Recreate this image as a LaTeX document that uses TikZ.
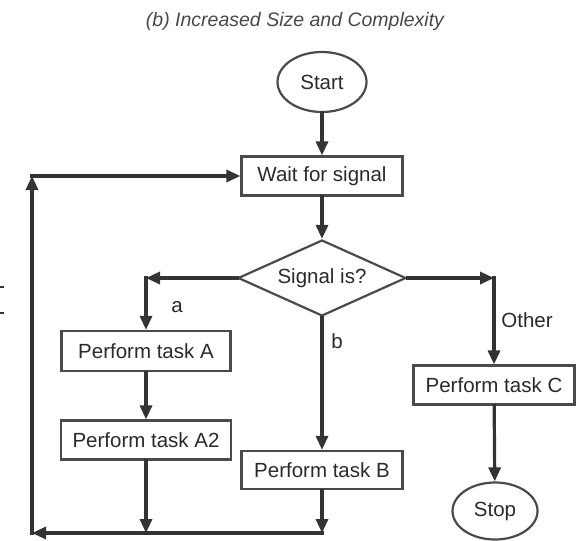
\documentclass[tikz,border=0pt]{standalone}
\usepackage{fontspec}
\setmainfont{Liberation Sans}
\usetikzlibrary{shapes.geometric,arrows.meta}
\definecolor{linec}{HTML}{333333}
\definecolor{boxc}{HTML}{4A4A4A}
\definecolor{txtc}{HTML}{2A2A2A}
\definecolor{titc}{HTML}{484848}
\begin{document}
\begin{tikzpicture}[x=1pt,y=-1pt,
  lbl/.style={text=txtc, font=\fontsize{20.5}{24}\selectfont},
  box/.style={draw=boxc, line width=2.2pt, rectangle, inner sep=0pt, lbl},
  oval/.style={draw=boxc, line width=2.2pt, ellipse, inner sep=0pt, lbl},
  decision/.style={draw=boxc, line width=2.2pt, diamond, aspect=2.2, inner sep=0pt, lbl},
  arr/.style={draw=linec, line width=3.2pt, line cap=rect, -{Triangle[length=14pt,width=12pt]}}
]
\useasboundingbox (0,0) rectangle (577,540);

\node[text=titc, font=\itshape\fontsize{19.5}{23}\selectfont] (title) at (295,21) {(b) Increased Size and Complexity};

\node[oval, minimum width=89pt, minimum height=60pt] (start) at (322,82) {Start};
\node[box, minimum width=161pt, minimum height=39pt] (wait) at (322,176) {Wait for signal};
\node[decision, minimum width=168pt, minimum height=76pt] (dec) at (322,278) {Signal is?};
\node[box, minimum width=169pt, minimum height=40pt] (A) at (146,351) {Perform task A};
\node[box, minimum width=170pt, minimum height=39pt] (A2) at (146,440) {Perform task A2};
\node[box, minimum width=161pt, minimum height=38pt] (B) at (322,470) {Perform task B};
\node[box, minimum width=161pt, minimum height=39pt] (C) at (494,385) {Perform task C};
\node[oval, minimum width=85pt, minimum height=57pt] (stop) at (495,511) {Stop};

\node[lbl] (la-lbl) at (177,307) {a};
\node[lbl] (lb-lbl) at (337,341) {b};
\node[lbl] (lo-lbl) at (527,320) {Other};

\coordinate (la) at (146,278);
\coordinate (ra) at (494,278);
\coordinate (a2b) at (146,533);
\coordinate (bb) at (322,533);
\coordinate (bl) at (32,533);
\coordinate (tl) at (32,176);

\draw[arr] (start) -- (wait);
\draw[arr] (wait) -- (dec);
\draw[arr] (dec.west) -- (la);
\draw[arr] (la) -- (A);
\draw[arr] (A) -- (A2);
\draw[arr] (A2) -- (a2b);
\draw[arr] (dec) -- (B);
\draw[arr] (B) -- (bb);
\draw[arr] (bb) -- (bl);
\draw[arr] (bl) -- (tl);
\draw[arr] (tl) -- (wait.west);
\draw[arr] (dec.east) -- (ra);
\draw[arr] (ra) -- (C);
\draw[arr] (C) -- (stop);

\coordinate (m1a) at (0,287);
\coordinate (m1b) at (4,287);
\coordinate (m2a) at (0,313);
\coordinate (m2b) at (4,313);
\draw[linec, line width=1.6pt] (m1a) -- (m1b);
\draw[linec, line width=1.6pt] (m2a) -- (m2b);
\end{tikzpicture}
\end{document}
